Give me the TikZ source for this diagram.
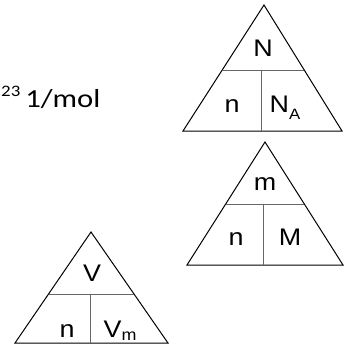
\documentclass[tikz,border=0pt]{standalone}
\usepackage{fontspec}
\usepackage{tikz}
\usetikzlibrary{calc}
\setmainfont{Liberation Sans}
\newfontfamily\molfont[FakeStretch=1.18]{Carlito}
\newfontfamily\symfont[FakeStretch=1.12]{Liberation Sans}

\begin{document}
\begin{tikzpicture}[
    x=1pt, y=-1pt,
    edge/.style={draw=black, line width=1pt, line join=miter},
    split/.style={draw=black!60, line width=0.9pt},
    sym/.style={font=\symfont\fontsize{24}{24}\selectfont, inner sep=0pt, anchor=base},
    unit/.style={font=\molfont\fontsize{26}{26}\selectfont, inner sep=0pt, anchor=base west}
]
    \useasboundingbox (0,0) rectangle (350,356);

    % N = n * N_A
    \coordinate (nTop)   at (264,5);
    \coordinate (nLeft)  at (183,131);
    \coordinate (nRight) at (342,131);
    \coordinate (nL)     at ($(nTop)!0.516!(nLeft)$);
    \coordinate (nR)     at ($(nTop)!0.516!(nRight)$);
    \coordinate (nMid)   at (261,70);
    \draw [edge]  (nTop) -- (nLeft) -- (nRight) -- cycle;
    \draw [split] (nL) -- (nR);
    \draw [split] (nMid) -- (nMid |- nLeft);
    \node [sym] (symN)  at (263,56)  {N};
    \node [sym] (symN1) at (232,112) {n};
    \node [sym] (symNA) at (285,112) {N\raisebox{-7pt}{\fontsize{15}{15}\selectfont A}};

    % m = n * M
    \coordinate (mTop)   at (265,142);
    \coordinate (mLeft)  at (187,265);
    \coordinate (mRight) at (343,265);
    \coordinate (mL)     at ($(mTop)!0.504!(mLeft)$);
    \coordinate (mR)     at ($(mTop)!0.504!(mRight)$);
    \coordinate (mMid)   at (263,204);
    \draw [edge]  (mTop) -- (mLeft) -- (mRight) -- cycle;
    \draw [split] (mL) -- (mR);
    \draw [split] (mMid) -- (mMid |- mLeft);
    \node [sym] (symM)  at (265,190) {m};
    \node [sym] (symM1) at (236,245) {n};
    \node [sym] (symMM) at (290,245) {M};

    % V = n * V_m
    \coordinate (vTop)   at (91,232);
    \coordinate (vLeft)  at (15,343);
    \coordinate (vRight) at (168,343);
    \coordinate (vL)     at ($(vTop)!0.559!(vLeft)$);
    \coordinate (vR)     at ($(vTop)!0.559!(vRight)$);
    \coordinate (vMid)   at (90,294);
    \draw [edge]  (vTop) -- (vLeft) -- (vRight) -- cycle;
    \draw [split] (vL) -- (vR);
    \draw [split] (vMid) -- (vMid |- vLeft);
    \node [sym] (symV)  at (92,281)  {V};
    \node [sym] (symV1) at (67,337)  {n};
    \node [sym] (symVm) at (120,337) {V\raisebox{-3pt}{\fontsize{16}{16}\selectfont m}};

    \node [unit] (avogadro) at (1,107) {\raisebox{11pt}{\fontsize{16}{16}\selectfont 23}\hspace{-2pt} 1/mol};
\end{tikzpicture}
\end{document}
